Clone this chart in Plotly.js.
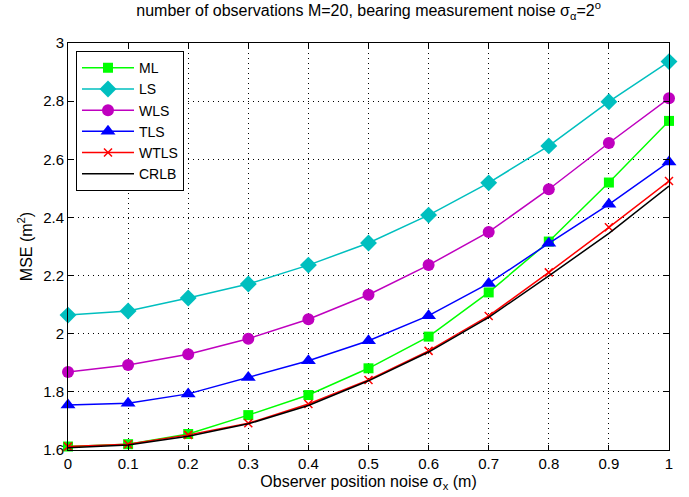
<!DOCTYPE html>
<html>
<head>
<meta charset="utf-8">
<script src="https://cdn.plot.ly/plotly-3.0.1.min.js"></script>
<style>html,body{margin:0;padding:0;background:#fff;}#chart{width:689px;height:497px;}</style>
</head>
<body>
<div id="chart"></div>
<script>
var sigmaX = [0, 0.1, 0.2, 0.3, 0.4, 0.5, 0.6, 0.7, 0.8, 0.9, 1.0];
var ML   = [1.612, 1.620, 1.655, 1.720, 1.789, 1.881, 1.990, 2.142, 2.317, 2.520, 2.732];
var LS   = [2.064, 2.078, 2.123, 2.171, 2.236, 2.312, 2.408, 2.519, 2.646, 2.798, 2.936];
var WLS  = [1.868, 1.892, 1.929, 1.983, 2.050, 2.134, 2.236, 2.350, 2.497, 2.656, 2.810];
var TLS  = [1.755, 1.761, 1.793, 1.849, 1.907, 1.976, 2.062, 2.173, 2.311, 2.445, 2.591];
var WTLS = [1.612, 1.620, 1.652, 1.692, 1.758, 1.841, 1.941, 2.061, 2.211, 2.366, 2.525];
var CRLB = [1.608, 1.617, 1.647, 1.690, 1.753, 1.838, 1.937, 2.056, 2.199, 2.345, 2.508];
var names = ['ML', 'LS', 'WLS', 'TLS', 'WTLS', 'CRLB'];
var xTicks = [0, 0.1, 0.2, 0.3, 0.4, 0.5, 0.6, 0.7, 0.8, 0.9, 1];
var yTicks = [1.6, 1.8, 2, 2.2, 2.4, 2.6, 2.8, 3];

var series = [ML, LS, WLS, TLS, WTLS, CRLB];
var colors = ['#00ff00', '#00bfbf', '#bf00bf', '#0000ff', '#ff0000', '#000000'];
var symbols = ['square', 'diamond', 'circle', 'triangle-up', 'x-thin', null];
var sizes = [10, 13, 12, 13, 8, 0];

var traces = series.map(function (ys, i) {
  var t = {
    x: sigmaX, y: ys, name: names[i], type: 'scatter',
    mode: symbols[i] ? 'lines+markers' : 'lines',
    line: {color: colors[i], width: 1.5},
    cliponaxis: false
  };
  if (symbols[i]) {
    t.marker = {symbol: symbols[i], size: sizes[i], color: colors[i]};
    if (symbols[i] === 'x-thin') t.marker.line = {color: colors[i], width: 1.5};
  }
  return t;
});

var fam = 'Liberation Sans, Arial, sans-serif';
var tickFont = {family: fam, size: 15, color: '#000'};
var labFont = {family: fam, size: 16, color: '#000'};
var layout = {
  width: 689, height: 497,
  margin: {l: 68, r: 20, t: 43, b: 47},
  paper_bgcolor: '#fff', plot_bgcolor: '#fff',
  font: tickFont,
  showlegend: true,
  title: {
    text: 'number of observations M=20, bearing measurement noise σ<sub>α</sub>=2<sup>o</sup>',
    font: {family: fam, size: 16, color: '#000'},
    x: 0.535, xanchor: 'center', y: 0.99, yanchor: 'top'
  },
  xaxis: {
    range: [0, 1], tickvals: xTicks, ticktext: xTicks.map(String),
    ticks: 'inside', ticklen: 5, tickcolor: '#000', mirror: 'ticks',
    showline: true, linecolor: '#000', linewidth: 1,
    showgrid: true, gridcolor: '#000', gridwidth: 1, griddash: '1px,4px',
    zeroline: false, tickfont: tickFont,
    title: {text: 'Observer position noise σ<sub>x</sub> (m)', font: labFont, standoff: 4}
  },
  yaxis: {
    range: [1.6, 3], tickvals: yTicks, ticktext: yTicks.map(String),
    ticks: 'inside', ticklen: 5, tickcolor: '#000', mirror: 'ticks',
    showline: true, linecolor: '#000', linewidth: 1,
    showgrid: true, gridcolor: '#000', gridwidth: 1, griddash: '1px,4px',
    zeroline: false, tickfont: tickFont,
    title: {text: 'MSE (m<sup>2</sup>)', font: labFont, standoff: 6}
  },
  legend: {
    x: 0.0133, y: 0.98, xanchor: 'left', yanchor: 'top',
    bgcolor: '#fff', bordercolor: '#000', borderwidth: 1,
    font: {family: fam, size: 14, color: '#000'},
    tracegroupgap: 0, itemwidth: 52
  }
};

Plotly.newPlot('chart', traces, layout, {displayModeBar: false, staticPlot: true});
</script>
</body>
</html>
